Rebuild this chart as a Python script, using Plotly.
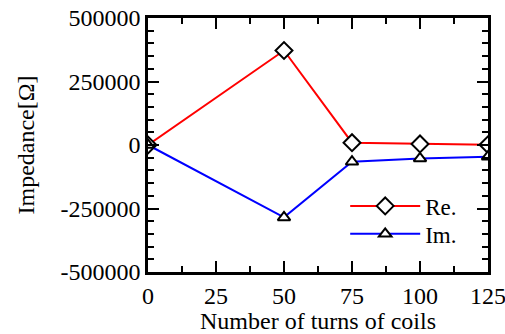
import plotly.graph_objects as go

turns = [0, 50, 75, 100, 125]
re_vals = [0, 372000, 9000, 4000, 1000]
im_vals = [0, -285000, -66000, -53000, -46000]
y_ticks = [500000, 250000, 0, -250000, -500000]
y_labels = ["500000", "250000", "0", "-250000", "-500000"]
x_ticks = [0, 25, 50, 75, 100, 125]

FONT = "Liberation Serif"

fig = go.Figure()
fig.add_trace(go.Scatter(
    x=turns, y=re_vals, name="Re.", mode="lines+markers",
    line=dict(color="#ff0000", width=2),
    marker=dict(symbol="diamond", size=13, color="white",
                line=dict(color="black", width=2)),
    legend="legend",
))
fig.add_trace(go.Scatter(
    x=turns, y=im_vals, name="Im.", mode="lines+markers",
    line=dict(color="#0000ff", width=2),
    marker=dict(symbol="triangle-up", size=11, color="white",
                line=dict(color="black", width=2)),
    legend="legend2",
))

axis_common = dict(
    showline=True, linecolor="black", linewidth=2.5, mirror="ticks",
    ticks="inside", ticklen=11, tickwidth=2, tickcolor="black",
    showgrid=False, zeroline=False, ticklabeloverflow="allow",
    automargin=False,
    tickfont=dict(family=FONT, size=24, color="black"),
)

fig.update_xaxes(
    range=[0, 125], tickvals=x_ticks,
    minor=dict(ticks="inside", ticklen=6, tickwidth=2, tickcolor="black", dtick=12.5, showgrid=False),
    title=dict(text="Number of turns of coils", font=dict(family=FONT, size=24, color="black"), standoff=2),
    **axis_common,
)
fig.update_yaxes(
    range=[-500000, 500000], tickvals=y_ticks, ticktext=y_labels,
    minor=dict(ticks="inside", ticklen=6, tickwidth=2, tickcolor="black", dtick=50000, showgrid=False),
    title=dict(text="Impedance[Ω]", font=dict(family=FONT, size=24, color="black"), standoff=20),
    **axis_common,
)

leg = dict(xanchor="left", yanchor="middle", bgcolor="rgba(0,0,0,0)", itemwidth=70,
           font=dict(family=FONT, size=23, color="black"))
fig.update_layout(
    width=505, height=334,
    margin=dict(l=148, r=17, t=18, b=62),
    plot_bgcolor="white", paper_bgcolor="white",
    showlegend=True,
    legend=dict(x=0.58, y=0.26, **leg),
    legend2=dict(x=0.58, y=0.15, **leg),
    font=dict(family=FONT, color="black"),
)

fig.write_html("out.html")
